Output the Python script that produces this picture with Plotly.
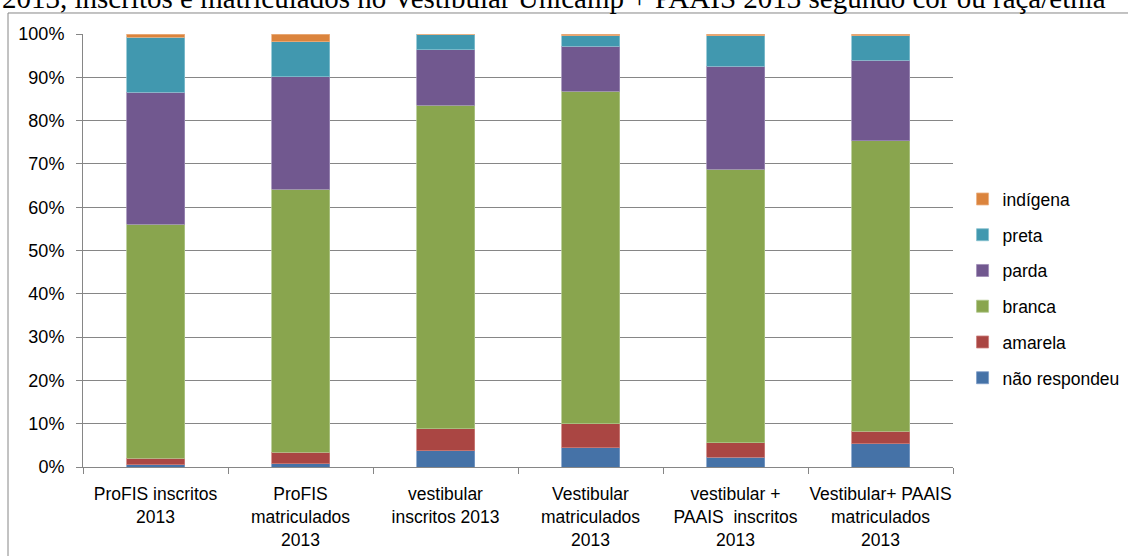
import plotly.graph_objects as go

categories = [
    "ProFIS inscritos<br>2013",
    "ProFIS<br>matriculados<br>2013",
    "vestibular<br>inscritos 2013",
    "Vestibular<br>matriculados<br>2013",
    "vestibular +<br>PAAIS  inscritos<br>2013",
    "Vestibular+ PAAIS<br>matriculados<br>2013",
]

nao_respondeu = [0.5, 0.8, 3.7, 4.5, 2.3, 5.4]
amarela = [1.5, 2.6, 5.1, 5.5, 3.3, 2.9]
branca = [54.1, 60.8, 74.8, 76.8, 63.2, 67.1]
parda = [30.5, 25.9, 12.8, 10.4, 23.7, 18.5]
preta = [12.7, 8.1, 3.5, 2.4, 7.1, 5.7]
indigena = [0.7, 1.8, 0.1, 0.4, 0.4, 0.4]

series = [
    ("não respondeu", nao_respondeu, "#4572A7", "#7C9CC6"),
    ("amarela", amarela, "#AA4643", "#CC7F7C"),
    ("branca", branca, "#89A54E", "#AFC68A"),
    ("parda", parda, "#71588F", "#9E8CB5"),
    ("preta", preta, "#4198AF", "#86C0CF"),
    ("indígena", indigena, "#DB843D", "#EBB081"),
]

title_text = "2013, inscritos e matriculados no Vestibular Unicamp + PAAIS 2013 segundo cor ou raça/etnia"

FONT = "Liberation Sans"

fig = go.Figure()
n = len(series)
for i, (name, vals, color, edge) in enumerate(series):
    fig.add_trace(go.Bar(
        x=categories, y=vals, name=name, legendgroup=name,
        legendrank=n - i,
        marker=dict(color=color, line=dict(color=edge, width=0.8)),
    ))

fig.update_layout(
    barmode="stack",
    bargap=0.6,
    width=1128, height=556,
    margin=dict(l=83, r=175, t=34, b=89, autoexpand=False),
    paper_bgcolor="white", plot_bgcolor="white",
    font=dict(family=FONT, size=17.5, color="black"),
    showlegend=True,
    legend=dict(
        traceorder="grouped", tracegroupgap=10,
        x=1.011, xanchor="left", y=0.412, yanchor="middle",
        font=dict(family=FONT, size=17.5, color="black"),
        bgcolor="rgba(0,0,0,0)",
    ),
    xaxis=dict(
        showgrid=False, showline=True, linecolor="#868686", linewidth=1,
        ticks="outside", ticklen=6, tickcolor="#868686", tickson="boundaries",
        ticklabelstandoff=11, tickangle=0, automargin=False,
        tickfont=dict(family=FONT, size=17.5),
    ),
    yaxis=dict(
        range=[0, 100], tickvals=[0, 10, 20, 30, 40, 50, 60, 70, 80, 90, 100],
        ticktext=["0%", "10%", "20%", "30%", "40%", "50%", "60%", "70%", "80%", "90%", "100%"],
        showgrid=True, gridcolor="#868686", gridwidth=1,
        showline=True, linecolor="#868686", linewidth=1,
        ticks="outside", ticklen=6, tickcolor="#868686",
        ticklabelstandoff=8, automargin=False,
        tickfont=dict(family=FONT, size=18),
        zeroline=False,
    ),
    shapes=[dict(
        type="rect", xref="paper", yref="paper",
        x0=-0.0862, x1=1.21, y0=-0.25, y1=1.0485,
        line=dict(color="#868686", width=1), fillcolor="rgba(0,0,0,0)", layer="below",
    )],
    annotations=[dict(
        text=title_text, xref="paper", yref="paper",
        x=-0.0954, xanchor="left", y=1.041, yanchor="bottom",
        showarrow=False, font=dict(family="Liberation Serif", size=29, color="black"),
    )],
)

fig.write_html("out.html", config={"displayModeBar": False},
               post_script="document.body.style.margin='0';")
